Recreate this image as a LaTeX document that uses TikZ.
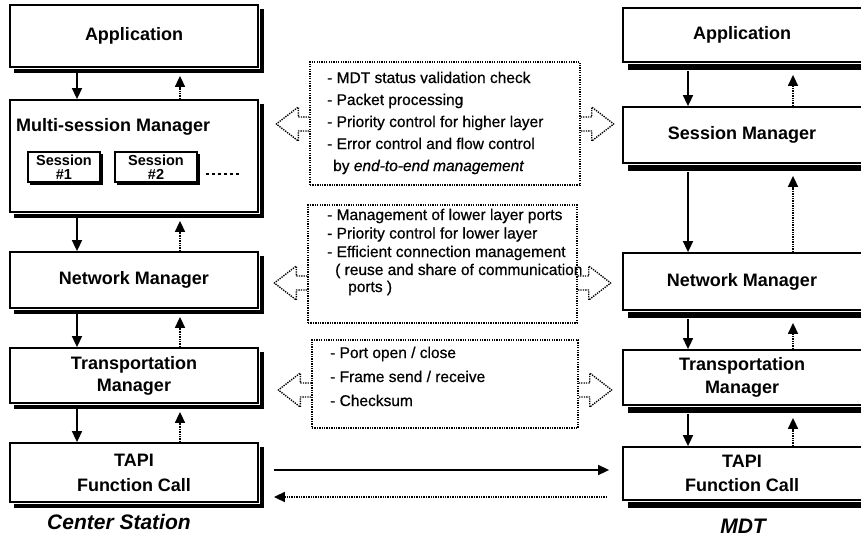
\documentclass[tikz,border=0pt]{standalone}
\usepackage{fontspec}
\setmainfont{Liberation Sans}
\newfontfamily\notefont[FakeBold=0.6]{Liberation Sans}
\usetikzlibrary{arrows.meta}
\begin{document}
\begin{tikzpicture}[x=1pt,y=-1pt,
  layer/.style={draw, line width=1.8pt, fill=white, inner sep=0pt},
  shadowline/.style={draw=black, line width=#1, line cap=butt, line join=miter},
  lbl/.style={font=\fontsize{18}{22}\selectfont\bfseries, align=center, inner sep=0pt},
  sess/.style={draw, line width=1.5pt, fill=white, inner sep=0pt, align=center,
    font=\fontsize{14.5}{14}\selectfont\bfseries},
  solidarr/.style={line width=1.6pt, -{Triangle[length=11pt,width=10pt]}},
  dotarr/.style={line width=1.6pt, dash pattern=on 1.3pt off 1.1pt,
    -{Triangle[length=11pt,width=10pt]}},
  dotbox/.style={draw, line width=1.4pt, dash pattern=on 1.3pt off 1.1pt, inner sep=0pt},
  dotline/.style={line width=1.4pt, dash pattern=on 1.3pt off 1.1pt, line join=round},
  note/.style={font=\notefont\fontsize{15.5}{18}\selectfont, anchor=base west, inner sep=0pt},
  caption/.style={font=\fontsize{21}{24}\selectfont\bfseries\itshape, anchor=base, inner sep=0pt},
  blkL/.pic={\draw[dotline] (0,-7) -- (-11,-7) -- (-11,-17) -- (-33,0) -- (-11,17) -- (-11,7) -- (0,7);},
  blkR/.pic={\draw[dotline] (0,-7) -- (11,-7) -- (11,-17) -- (33,0) -- (11,17) -- (11,7) -- (0,7);}
]
\useasboundingbox (0,0) rectangle (861,538);
\clip (0,0) rectangle (861,538);
\fill[white] (0,0) rectangle (861,538);

% ---- Center station stack ----
\node[layer, minimum width=248pt, minimum height=62pt] (appL) at (134,36) {};
\node[lbl] (appLt) at (appL.center) {Application};
\node[layer, minimum width=248pt, minimum height=112pt] (msmL) at (134,156) {};
\node[lbl, anchor=base west] (msmLt) at (16,131) {Multi-session Manager};
\node[sess, minimum width=72pt, minimum height=30pt] (s1) at (64,167) {Session\\\#1};
\node[sess, minimum width=82pt, minimum height=30pt] (s2) at (156,167) {Session\\\#2};
\draw[line width=2.5pt, dash pattern=on 3pt off 3pt] ([shift={(8,7)}]s2.east) -- ++(34,0);
\node[layer, minimum width=248pt, minimum height=56pt] (netL) at (134,280) {};
\node[lbl] (netLt) at (netL.center) {Network Manager};
\node[layer, minimum width=248pt, minimum height=55pt] (trL) at (134,375.5) {};
\node[lbl, font=\fontsize{18}{22}\selectfont\bfseries] (trLt) at (trL.center) {Transportation\\Manager};
\node[layer, minimum width=248pt, minimum height=59pt] (tapiL) at (134,472.5) {};
\node[lbl, font=\fontsize{18}{25}\selectfont\bfseries] (tapiLt) at (tapiL.center) {TAPI\\Function Call};
\node[caption] (cs) at (119,529) {Center Station};

% ---- MDT stack ----
\node[layer, minimum width=245pt, minimum height=54pt] (appR) at (745.5,35) {};
\node[lbl] (appRt) at (742,35) {Application};
\node[layer, minimum width=245pt, minimum height=56pt] (sesR) at (745.5,135) {};
\node[lbl] (sesRt) at (742,135) {Session Manager};
\node[layer, minimum width=245pt, minimum height=57pt] (netR) at (745.5,281.5) {};
\node[lbl] (netRt) at (742,281.5) {Network Manager};
\node[layer, minimum width=245pt, minimum height=55pt] (trR) at (745.5,377.5) {};
\node[lbl, font=\fontsize{18}{23}\selectfont\bfseries] (trRt) at (742,377.5) {Transportation\\Manager};
\node[layer, minimum width=245pt, minimum height=53pt] (tapiR) at (745.5,473.5) {};
\node[lbl, font=\fontsize{18}{24}\selectfont\bfseries] (tapiRt) at (742,473.5) {TAPI\\Function Call};
\node[caption] (mdt) at (743,533) {MDT};

% ---- heavy shadow edges along the bottom and right of each layer box ----
\foreach \bx in {appL,msmL,netL,trL,tapiL}{
  \draw[shadowline=4.5pt] ([shift={(5pt,-3.1pt)}]\bx.south west) -- ([shift={(3.1pt,-3.1pt)}]\bx.south east)
     -- ([shift={(3.1pt,-5pt)}]\bx.north east);
}
\foreach \bx in {appR,sesR,netR,trR,tapiR}{
  \draw[shadowline=6pt] ([shift={(6pt,-3.8pt)}]\bx.south west) -- ([shift={(3.8pt,-3.8pt)}]\bx.south east)
     -- ([shift={(3.8pt,-6pt)}]\bx.north east);
}
\foreach \bx in {s1,s2}{
  \draw[shadowline=2pt] ([shift={(2.5pt,-1.7pt)}]\bx.south west) -- ([shift={(1.7pt,-1.7pt)}]\bx.south east)
     -- ([shift={(1.7pt,-2.5pt)}]\bx.north east);
}

% ---- vertical flows ----
\coordinate (xa) at (77,0);
\coordinate (xb) at (180,0);
\coordinate (xc) at (688,0);
\coordinate (xd) at (793,0);
\foreach \u/\l in {appL/msmL, msmL/netL, netL/trL, trL/tapiL}{
  \draw[solidarr, shorten <=5pt] (\u.south -| xa) -- (\l.north -| xa);
  \draw[dotarr, shorten >=8pt] (\l.north -| xb) -- (\u.south -| xb);
}
\foreach \u/\l in {appR/sesR, sesR/netR, netR/trR, trR/tapiR}{
  \draw[solidarr, shorten <=8pt] (\u.south -| xc) -- (\l.north -| xc);
  \draw[dotarr, shorten >=12pt] (\l.north -| xd) -- (\u.south -| xd);
}

% ---- peer functions ----
\node[dotbox, minimum width=270pt, minimum height=123pt] (m1) at (445,123.5) {};
\node[dotbox, minimum width=269pt, minimum height=118pt] (m2) at (442.5,264) {};
\node[dotbox, minimum width=266pt, minimum height=88pt] (m3) at (445,384) {};

\pic at (m1.west |- 0,124) {blkL};
\pic at (m1.east |- 0,124) {blkR};
\pic at (m2.west |- 0,283) {blkL};
\pic at (m2.east |- 0,283) {blkR};
\pic at (m3.west |- 0,390) {blkL};
\pic at (m3.east |- 0,390) {blkR};

\node[note] (n11) at (327,83) {- MDT status validation check};
\node[note] (n12) at (327,105) {- Packet processing};
\node[note] (n13) at (327,127) {- Priority control for higher layer};
\node[note] (n14) at (327,149) {- Error control and flow control};
\node[note] (n15) at (333,171) {by \textit{end-to-end management}};

\node[note] (n21) at (327,220) {- Management of lower layer ports};
\node[note] (n22) at (327,238.5) {- Priority control for lower layer};
\node[note] (n23) at (327,257) {- Efficient connection management};
\node[note] (n24) at (335,275) {( reuse and share of communication};
\node[note] (n25) at (348,292) {ports )};

\node[note] (n31) at (330,358) {- Port open / close};
\node[note] (n32) at (330,382) {- Frame send / receive};
\node[note] (n33) at (330,406) {- Checksum};

% ---- physical link ----
\draw[solidarr, shorten <=15pt, shorten >=13pt] (tapiL.east |- 0,470) -- (tapiR.west |- 0,470);
\draw[dotarr, shorten <=15pt, shorten >=15pt] (tapiR.west |- 0,497) -- (tapiL.east |- 0,497);
\end{tikzpicture}
\end{document}
